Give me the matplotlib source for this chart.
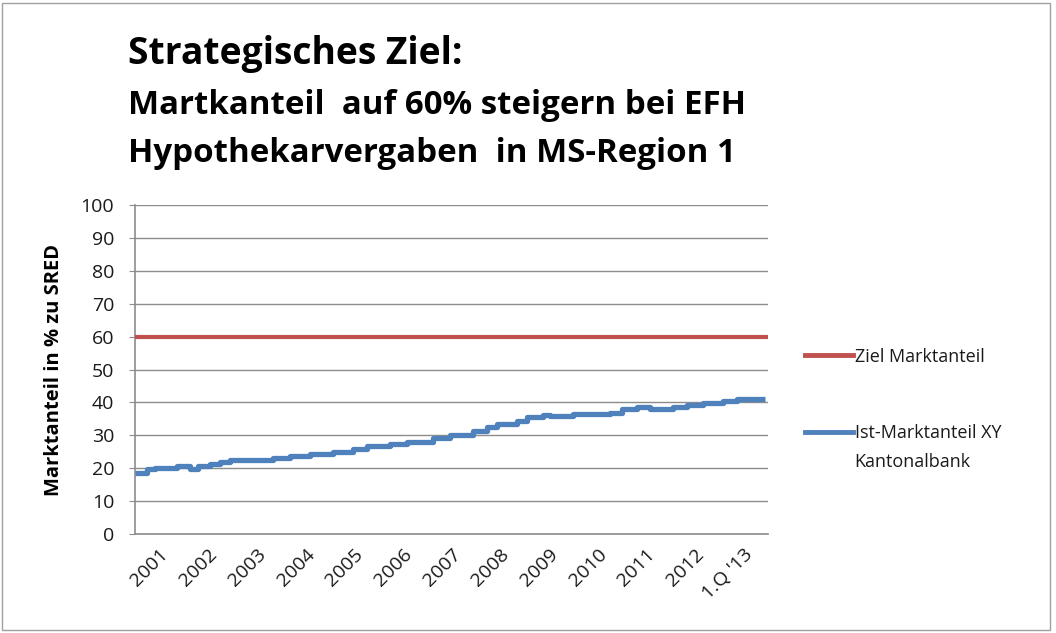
import matplotlib
matplotlib.use("Agg")
import matplotlib.pyplot as plt
from matplotlib.patches import Rectangle
from matplotlib.lines import Line2D

# ---- data ----
kategorien = ["2001", "2002", "2003", "2004", "2005", "2006", "2007",
              "2008", "2009", "2010", "2011", "2012", "1.Q '13"]
ziel_marktanteil = 60
# time in years since start of 2001, and observed market share (%)
zeit_jahre = [0.00, 0.25, 0.41, 0.86, 1.13, 1.29, 1.54, 1.75, 1.95, 2.83,
              3.18, 3.59, 4.07, 4.48, 4.76, 5.24, 5.59, 6.12, 6.47, 6.94,
              7.23, 7.43, 7.84, 8.05, 8.38, 8.52, 8.99, 9.75, 10.00, 10.31,
              10.57, 11.05, 11.33, 11.66, 12.07, 12.36, 12.94]
ist_marktanteil = [18.4, 19.7, 20.2, 20.6, 19.9, 20.6, 21.4, 21.9, 22.4, 23.1,
                   23.6, 24.2, 25.0, 25.9, 26.8, 27.4, 28.1, 29.1, 30.1, 31.2,
                   32.4, 33.4, 34.2, 35.7, 36.2, 35.9, 36.4, 36.9, 37.9, 38.6,
                   37.9, 38.6, 39.2, 39.7, 40.3, 41.1, 41.1]
y_ticks = list(range(0, 101, 10))

titel1 = "Strategisches Ziel:"
titel2 = "Martkanteil  auf 60% steigern bei EFH"
titel3 = "Hypothekarvergaben  in MS-Region 1"
legende_ziel = "Ziel Marktanteil"
legende_ist = "Ist-Marktanteil XY"
legende_ist2 = "Kantonalbank"

# ---- style ----
FONT = "Open Sans"
RED = "#C0504D"
BLUE = "#4F81BD"
GRID = "#8C8C8C"
TXT = "#1A1A1A"

fig = plt.figure(figsize=(10.56, 6.33), dpi=100)
fig.patch.set_facecolor("white")
fig.patches.append(Rectangle((0.002, 0.004), 0.992, 0.992, transform=fig.transFigure,
                             fill=False, edgecolor="#A0A0A0", linewidth=1.0))

ax = fig.add_axes([0.1278, 0.1564, 0.5994, 0.5197])
n = len(kategorien)
ax.set_xlim(0, n)
ax.set_ylim(0, 100)

ax.plot([0, n], [ziel_marktanteil, ziel_marktanteil], color=RED, linewidth=3.0,
        solid_capstyle="butt", zorder=3)
ax.plot(zeit_jahre, ist_marktanteil, color=BLUE, linewidth=3.8, drawstyle="steps-post",
        solid_capstyle="butt", zorder=4)

ax.set_yticks(y_ticks)
ax.yaxis.grid(True, color=GRID, linewidth=1.0)
ax.set_axisbelow(True)
ax.set_xticks([i + 0.5 for i in range(n)])
ax.set_xticklabels(kategorien, rotation=45, ha="right", rotation_mode="anchor",
                   fontsize=14, fontfamily=FONT, color=TXT)
for lab in ax.get_yticklabels():
    lab.set_fontfamily(FONT)
    lab.set_fontsize(14)
    lab.set_color(TXT)
ax.tick_params(axis="x", length=0, pad=8)
ax.tick_params(axis="y", length=4, color=GRID, pad=11)
for s in ["top", "right"]:
    ax.spines[s].set_visible(False)
for s in ["left", "bottom"]:
    ax.spines[s].set_color(GRID)
    ax.spines[s].set_linewidth(1.2)

ax.set_ylabel("Marktanteil in % zu SRED", fontfamily=FONT, fontweight="bold",
              fontsize=14.5, labelpad=12, color="black")

fig.text(0.121, 0.915, titel1, fontfamily=FONT, fontweight="bold", fontsize=26.8,
         va="center", ha="left")
fig.text(0.121, 0.834, titel2, fontfamily=FONT, fontweight="bold", fontsize=23.8,
         va="center", ha="left")
fig.text(0.121, 0.758, titel3, fontfamily=FONT, fontweight="bold", fontsize=23.8,
         va="center", ha="left")

handles = [Line2D([], [], color=RED, linewidth=3.5),
           Line2D([], [], color=BLUE, linewidth=3.5)]
leg = fig.legend(handles, [legende_ziel, legende_ist], loc="upper left",
                 bbox_to_anchor=(0.762, 0.451), frameon=False,
                 prop={"family": FONT, "size": 13}, handlelength=2.7,
                 handletextpad=0.1, labelspacing=3.25, borderpad=0, borderaxespad=0)
for t in leg.get_texts():
    t.set_color(TXT)
fig.text(0.809, 1 - 462 / 633, legende_ist2, fontfamily=FONT, fontsize=13,
         color=TXT, va="center", ha="left")

fig.savefig("out.png", dpi=100)
